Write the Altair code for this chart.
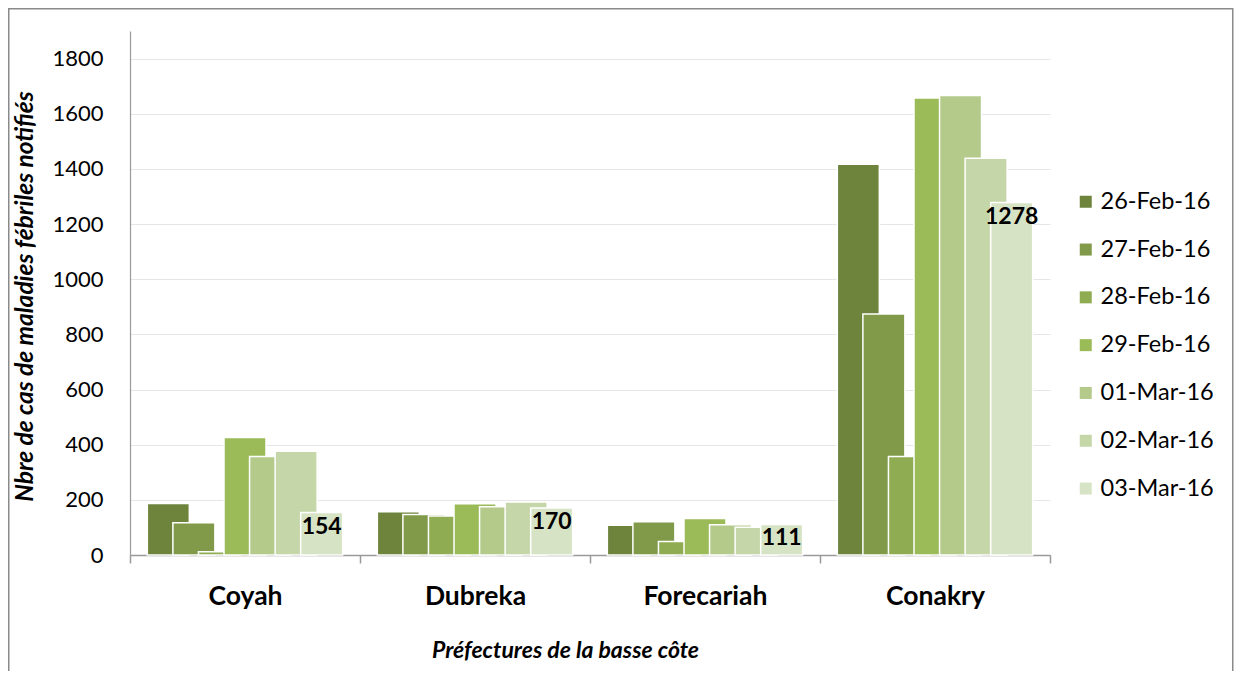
import altair as alt
import pandas as pd

prefectures = ["Coyah", "Dubreka", "Forecariah", "Conakry"]
dates = ["26-Feb-16", "27-Feb-16", "28-Feb-16", "29-Feb-16", "01-Mar-16", "02-Mar-16", "03-Mar-16"]
colors = ["#6E843D", "#809A4A", "#8FAC53", "#9BBB59", "#B3CA8B", "#C5D6A8", "#D7E3C5"]

coyah = [187, 117, 12, 426, 357, 376, 154]
dubreka = [157, 147, 141, 186, 175, 192, 170]
forecariah = [108, 121, 49, 132, 110, 101, 111]
conakry = [1417, 874, 357, 1657, 1666, 1439, 1278]

y_ticks = [0, 200, 400, 600, 800, 1000, 1200, 1400, 1600, 1800]

rows = []
for pref, vals in zip(prefectures, [coyah, dubreka, forecariah, conakry]):
    for d, v in zip(dates, vals):
        rows.append({"pref": pref, "date": d, "value": v})
df = pd.DataFrame(rows)

FONT = "Lato"

x_enc = alt.X(
    "pref:N",
    sort=prefectures,
    scale=alt.Scale(paddingInner=0, paddingOuter=0),
    axis=alt.Axis(
        title="Préfectures de la basse côte",
        titleFont=FONT, titleFontSize=23, titleFontWeight="bold", titleFontStyle="italic",
        titleColor="#000000", titleX=435, titleY=95, titleAlign="center", titleBaseline="middle",
        labelFont=FONT, labelFontSize=26.5, labelFontWeight="bold", labelColor="#000000",
        labelPadding=20, labelAngle=0,
        tickBand="extent", tickSize=8, tickColor="#9a9a9a", tickWidth=1.5,
        domainColor="#9a9a9a", domainWidth=1.5, grid=False,
    ),
)
xo_enc = alt.XOffset("date:N", sort=dates, scale=alt.Scale(paddingInner=0, paddingOuter=1))
y_enc = alt.Y(
    "value:Q",
    stack=None,
    scale=alt.Scale(domain=[0, 1900], nice=False),
    axis=alt.Axis(
        title="Nbre de cas de maladies fébriles notifiés",
        titleFont=FONT, titleFontSize=24.5, titleFontWeight="bold", titleFontStyle="italic",
        titleColor="#000000", titleX=-105, titleY=265, titleAlign="center",
        titleBaseline="middle", titleAngle=-90,
        values=y_ticks, format="d", labelFont=FONT, labelFontSize=22, labelColor="#000000",
        labelPadding=27, ticks=False,
        domainColor="#9a9a9a", domainWidth=1.2,
        gridColor="#e6e6e6", gridWidth=1.2,
    ),
)

bars = alt.Chart(df).mark_bar(
    width=42, stroke="white", strokeWidth=1.5
).encode(
    x=x_enc,
    xOffset=xo_enc,
    y=y_enc,
    color=alt.Color(
        "date:N",
        sort=dates,
        scale=alt.Scale(domain=dates, range=colors),
        legend=alt.Legend(
            title=None, orient="none", legendX=944, legendY=159,
            symbolType="square", symbolSize=144, symbolStrokeWidth=0,
            labelFont=FONT, labelFontSize=23.5, labelColor="#000000",
            labelOffset=3, rowPadding=22.8, padding=0,
        ),
    ),
)

labels = alt.Chart(df).transform_filter(
    alt.datum.date == dates[-1]
).mark_text(
    font=FONT, fontSize=23, fontWeight="bold", color="#000000", baseline="middle", dy=14
).encode(
    x=alt.X("pref:N", sort=prefectures),
    xOffset=alt.XOffset("date:N", sort=dates),
    y=alt.Y("value:Q"),
    text=alt.Text("value:Q"),
)

border = alt.Chart(pd.DataFrame({"a": [0]})).mark_rect(
    filled=False, stroke="#8a8a8a", strokeWidth=1.5
).encode(
    x=alt.value(-121.25), x2=alt.value(1102.75), y=alt.value(-22.25), y2=alt.value(700)
)

chart = alt.layer(border, bars, labels).properties(
    width=920, height=524,
    autosize=alt.AutoSizeParams(type="none"),
    padding={"left": 122, "top": 23, "right": 184, "bottom": 116},
).configure_view(stroke=None)

chart.save("out.html", embed_options={"renderer": "svg", "actions": False})
